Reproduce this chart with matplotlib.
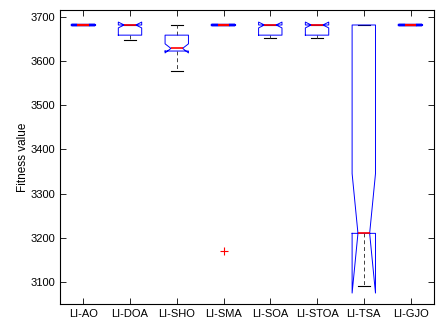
import numpy as np
import matplotlib.pyplot as plt

plt.rcParams['font.family'] = ['Liberation Sans', 'DejaVu Sans']

algorithms = ['LI-AO', 'LI-DOA', 'LI-SHO', 'LI-SMA', 'LI-SOA', 'LI-STOA', 'LI-TSA', 'LI-GJO']
medians = [3682, 3682, 3629, 3682, 3682, 3682, 3210, 3682]
q1 = [3682, 3659, 3623, 3682, 3659, 3659, 3210, 3682]
q3 = [3682, 3682, 3659, 3682, 3682, 3682, 3682, 3682]
whisker_low = [3682, 3648, 3577, 3682, 3652, 3652, 3090, 3682]
whisker_high = [3682, 3682, 3682, 3682, 3682, 3682, 3682, 3682]
outliers = [[], [], [], [3169], [], [], [], []]
n_runs = 30


def main():
    stats = []
    for i, name in enumerate(algorithms):
        iqr = q3[i] - q1[i]
        half = 1.57 * iqr / np.sqrt(n_runs)
        stats.append({
            'label': name,
            'med': medians[i],
            'q1': q1[i],
            'q3': q3[i],
            'whislo': whisker_low[i],
            'whishi': whisker_high[i],
            'cilo': medians[i] - half,
            'cihi': medians[i] + half,
            'fliers': outliers[i],
        })

    fig = plt.figure(figsize=(4.37, 3.22), dpi=100)
    ax = fig.add_axes([0.137, 0.056, 0.856, 0.913])
    bp = ax.bxp(stats, shownotches=True, widths=0.5, capwidths=0.25,
                boxprops=dict(color='blue', linewidth=0.7),
                medianprops=dict(color='red', linewidth=1.2),
                whiskerprops=dict(color='0.25', linewidth=0.7, linestyle=(0, (4, 3))),
                capprops=dict(color='black', linewidth=0.8),
                flierprops=dict(marker='+', markeredgecolor='red', markersize=6,
                                markeredgewidth=0.8))
    # caps behind, box edges and medians on top
    for c in bp['caps']:
        c.set_zorder(1.5)
    for i, b in enumerate(bp['boxes']):
        b.set_zorder(2.5)
        if q1[i] == q3[i]:
            b.set_linewidth(1.6)
            bp['medians'][i].set_linewidth(1.6)
    for m in bp['medians']:
        m.set_zorder(3)

    ax.set_xlim(0.5, 8.5)
    ax.set_ylim(3050, 3716)
    ax.set_yticks([3100, 3200, 3300, 3400, 3500, 3600, 3700])
    ax.tick_params(direction='in', top=True, right=True, length=4,
                   width=0.6, labelsize=8)
    for s in ax.spines.values():
        s.set_linewidth(0.8)
    ax.set_ylabel('Fitness value', fontsize=8.5, labelpad=1)
    fig.savefig('out.png', dpi=100)


if __name__ == '__main__':
    main()
